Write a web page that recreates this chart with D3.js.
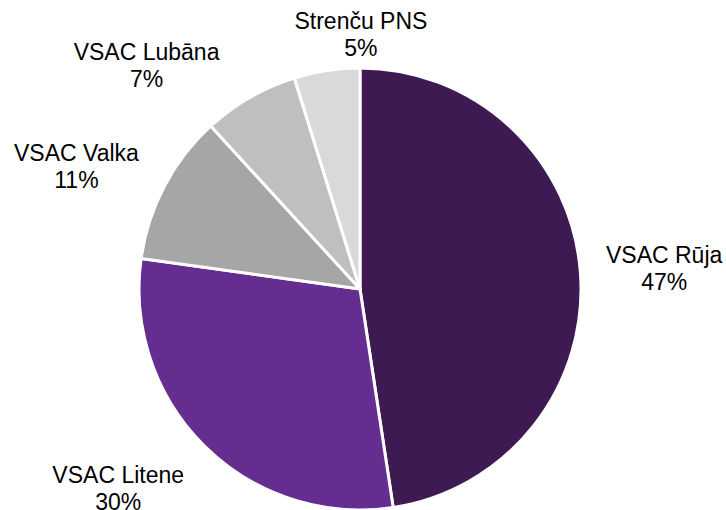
<!DOCTYPE html>
<html>
<head>
<meta charset="utf-8">
<script src="https://cdn.jsdelivr.net/npm/d3@7"></script>
<style>
  body { margin: 0; background: #fff; }
  svg { display: block; font-family: "Liberation Sans", Arial, sans-serif; }
</style>
</head>
<body>
<svg></svg>
<script>
// shares of total, clockwise from 12 o'clock
const names = ["VSAC Rūja", "VSAC Litene", "VSAC Valka", "VSAC Lubāna", "Strenču PNS"]
const shares = [47.6, 29.6, 11.0, 7.0, 4.8]
const pctLabels = ["47%", "30%", "11%", "7%", "5%"]
const colors = ["#3d1a52", "#662d91", "#a6a6a6", "#bfbfbf", "#d9d9d9"]

const width = 726
const height = 510
const cx = 360
const cy = 289
const radius = 221

// label nudges so they sit where the original placed them
const labelOffsets = [[5, 2], [-31, -14], [-18, 17], [-64, 37], [46, 42]]

const svg = d3.select("svg")
    .attr("width", width)
    .attr("height", height)

const pie = d3.pie()
  .sort(null)
  .value(d => d)

const arcs = pie(shares)

const arc = d3.arc()
  .innerRadius(0)
  .outerRadius(radius)

const labelArc = d3.arc()
  .innerRadius(300)
  .outerRadius(300)

const g = svg.append("g")
  .attr("transform", `translate(${cx},${cy})`)

g.selectAll("path")
  .data(arcs)
  .join("path")
  .attr("d", arc)
  .attr("fill", (d, i) => colors[i])
  .attr("stroke", "#fff")
  .attr("stroke-width", 3)
  .attr("stroke-linejoin", "round")

const label = g.selectAll("text")
  .data(arcs)
  .join("text")
  .attr("text-anchor", "middle")
  .attr("font-size", 23)
  .attr("fill", "#000")
  .attr("transform", (d, i) => {
    const [x, y] = labelArc.centroid(d)
    return `translate(${x + labelOffsets[i][0]},${y + labelOffsets[i][1]})`
  })

label.append("tspan")
  .attr("x", 0)
  .attr("y", -5.5)
  .text((d, i) => names[i])

label.append("tspan")
  .attr("x", 0)
  .attr("y", 21.5)
  .text((d, i) => pctLabels[i])
</script>
</body>
</html>
